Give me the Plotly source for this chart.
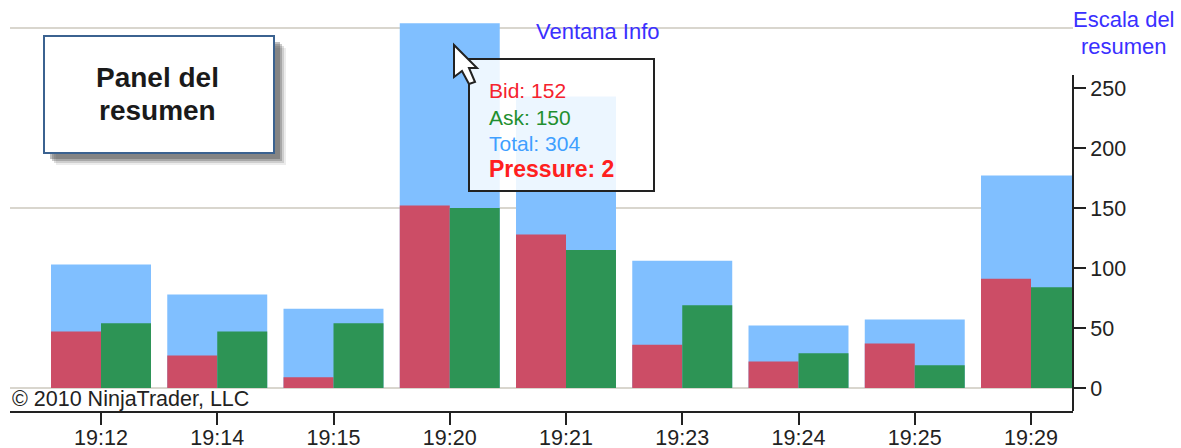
import plotly.graph_objects as go

times = ["19:12", "19:14", "19:15", "19:20", "19:21", "19:23", "19:24", "19:25", "19:29"]
bid = [47, 27, 9, 152, 128, 36, 22, 37, 91]
ask = [54, 47, 54, 150, 115, 69, 29, 19, 84]
total = [103, 78, 66, 304, 243, 106, 52, 57, 177]
y_ticks = [0, 50, 100, 150, 200, 250]
grid_levels = [0, 150, 300]

W, H = 1181, 448
L, R, T, B = 10, 1073, 0, 411


def px(x):
    return (x - L) / (R - L)


def py(y):
    return (B - y) / (B - T)


def rect(x0, y0, x1, y1, fill, line=None, lw=0):
    return dict(type="rect", xref="paper", yref="paper", x0=px(x0), x1=px(x1), y0=py(y0), y1=py(y1),
                fillcolor=fill, line=dict(color=line or "rgba(0,0,0,0)", width=lw), layer="above")


def label(x, y, text, size, color, bold=False, anchor="center"):
    t = f"<b>{text}</b>" if bold else text
    return dict(xref="paper", yref="paper", x=px(x), y=py(y), text=t, showarrow=False, xanchor=anchor,
                yanchor="middle", font=dict(family="Liberation Sans", size=size, color=color))


BW = 0.86
fig = go.Figure()
fig.add_bar(x=times, y=total, width=BW, offset=-BW / 2, marker=dict(color="#80bfff", line_width=0), name="Total")
fig.add_bar(x=times, y=bid, width=BW / 2, offset=-BW / 2, marker=dict(color="#cc4d66", line_width=0), name="Bid")
fig.add_bar(x=times, y=ask, width=BW / 2, offset=0, marker=dict(color="#2d9455", line_width=0), name="Ask")

shapes = []
for g in grid_levels:
    shapes.append(dict(type="line", xref="paper", yref="y", x0=0, x1=1, y0=g, y1=g,
                       line=dict(color="#d9d6ce", width=2), layer="below"))
# value-axis line stops below the top of the plot
shapes.append(dict(type="line", xref="paper", yref="paper", x0=1, x1=1, y0=py(75), y1=py(411),
                   line=dict(color="#222222", width=2), layer="above"))
# summary panel with soft shadow
for off, alpha in ((12, 0.1), (10, 0.18), (8, 0.28), (6, 0.35)):
    shapes.append(rect(44 + off, 36 + off, 274 + off, 153 + off, f"rgba(70,70,70,{alpha})"))
shapes.append(rect(44, 36, 274, 153, "#ffffff", "#3b6290", 2))
# info window
shapes.append(rect(469, 59, 654, 191, "rgba(255,255,255,0.85)", "#222222", 2))
# mouse pointer
cursor = [(454, 45), (454, 77), (462, 71), (469, 84), (475, 82), (469, 68), (477, 68)]
path = "M " + " L ".join(f"{px(a):.5f},{py(b):.5f}" for a, b in cursor) + " Z"
shapes.append(dict(type="path", xref="paper", yref="paper", path=path, fillcolor="#ffffff",
                   line=dict(color="#222222", width=2), layer="above"))

annotations = [
    label(157, 77, "Panel del", 28, "#1a1a1a", True),
    label(157, 110, "resumen", 28, "#1a1a1a", True),
    label(598, 31, "Ventana Info", 22, "#3a30ff"),
    label(1124, 19, "Escala del", 22, "#3a30ff"),
    label(1124, 47, "resumen", 22, "#3a30ff"),
    label(10, 399, "© 2010 NinjaTrader, LLC", 21.5, "#222222", anchor="left"),
    label(487, 91, "Bid: 152", 21, "#f5222d", anchor="left"),
    label(487, 117, "Ask: 150", 21, "#1f8f2f", anchor="left"),
    label(487, 143, "Total: 304", 21, "#3f9fff", anchor="left"),
    label(487, 169, "Pressure: 2", 23, "#ff2020", True, anchor="left"),
]

fig.update_layout(
    width=W, height=H, autosize=False, barmode="overlay", showlegend=False,
    paper_bgcolor="#ffffff", plot_bgcolor="#ffffff",
    margin=dict(l=L, r=W - R, t=T, b=H - B, pad=0, autoexpand=False),
    shapes=shapes, annotations=annotations,
    xaxis=dict(type="category", categoryorder="array", categoryarray=times, automargin=False,
               range=[(L - 101) / 116.25, (R - 101) / 116.25], showgrid=False, zeroline=False,
               showline=True, linecolor="#222222", linewidth=2, ticks="outside", ticklen=12,
               tickwidth=2, tickcolor="#222222", ticklabelstandoff=-6,
               tickfont=dict(family="Liberation Sans", size=21.5, color="#222222")),
    yaxis=dict(side="right", range=[(388 - B) / 1.2, (388 - T) / 1.2], tickvals=y_ticks, showgrid=False,
               automargin=False, zeroline=False, showline=False, ticks="outside", ticklen=12, tickwidth=2,
               tickcolor="#222222",
               tickfont=dict(family="Liberation Sans", size=21.5, color="#222222")),
)
fig.write_html("out.html", config=dict(displayModeBar=False),
               post_script="document.body.style.margin='0';document.documentElement.style.overflow='hidden';")
